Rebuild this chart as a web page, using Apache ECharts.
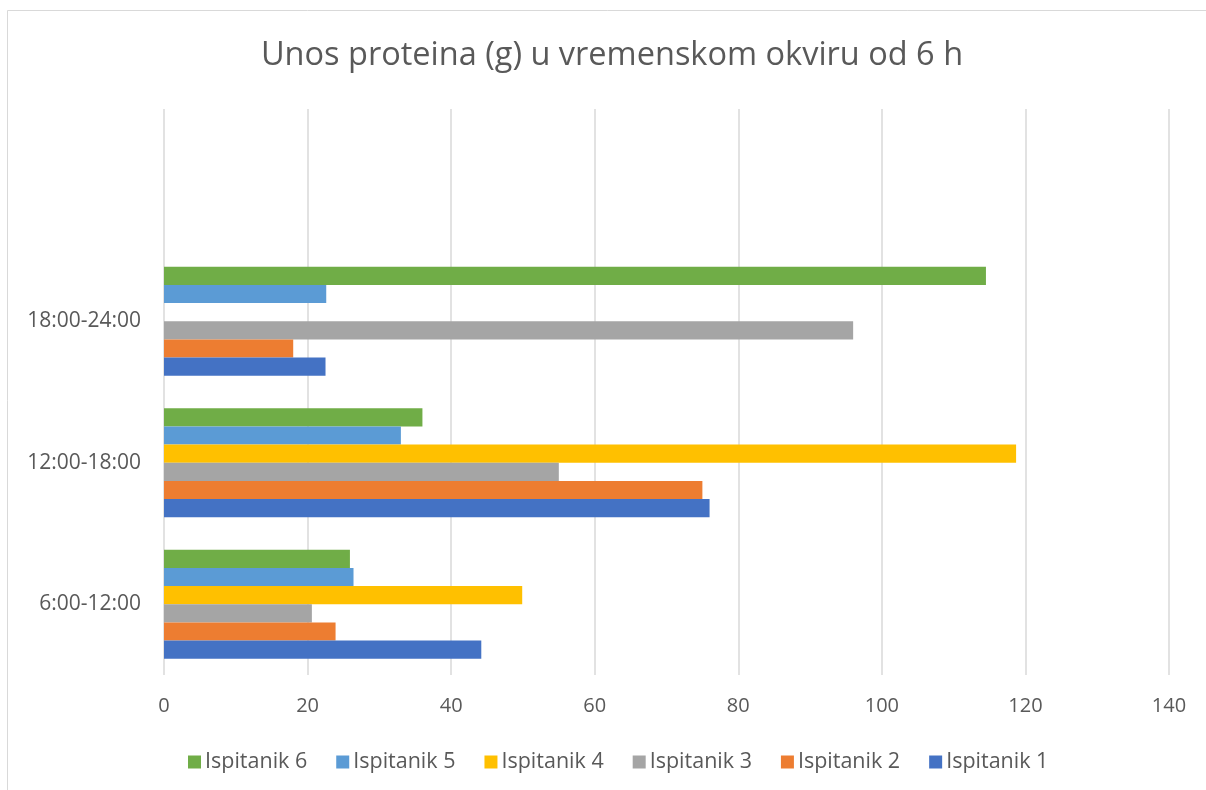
<!DOCTYPE html>
<html>
<head>
<meta charset="utf-8">
<script src="https://cdn.jsdelivr.net/npm/echarts@6/dist/echarts.min.js"></script>
<style>
  html, body { margin: 0; padding: 0; background: #fff; }
  #chart { width: 1206px; height: 790px; }
</style>
</head>
<body>
<div id="chart"></div>
<script>
// Categories (bottom to top); the top slot is empty in the original chart
const categories = ['6:00-12:00', '12:00-18:00', '18:00-24:00', ''];
const seriesNames = ['Ispitanik 1', 'Ispitanik 2', 'Ispitanik 3', 'Ispitanik 4', 'Ispitanik 5', 'Ispitanik 6'];
const ispitanik1 = [44.2, 76.0, 22.5];
const ispitanik2 = [23.9, 75.0, 18.0];
const ispitanik3 = [20.6, 55.0, 96.0];
const ispitanik4 = [49.9, 118.7, 0];
const ispitanik5 = [26.4, 33.0, 22.6];
const ispitanik6 = [25.9, 36.0, 114.5];
const xTicks = [0, 20, 40, 60, 80, 100, 120, 140];
const colors = ['#4472C4', '#ED7D31', '#A5A5A5', '#FFC000', '#5B9BD5', '#70AD47'];
const values = [ispitanik1, ispitanik2, ispitanik3, ispitanik4, ispitanik5, ispitanik6];

const FONT = 'Open Sans';
const TXT = '#595959';

// Series added from Ispitanik 6 down to 1 so that Ispitanik 1 sits at the bottom of each group
const order = [5, 4, 3, 2, 1, 0];

const chart = echarts.init(document.getElementById('chart'), null, { renderer: 'canvas' });
chart.setOption({
  animation: false,
  backgroundColor: '#ffffff',
  title: {
    text: 'Unos proteina (g) u vremenskom okviru od 6 h',
    left: 607,
    textAlign: 'center',
    top: 34,
    textStyle: { fontFamily: FONT, fontSize: 32.5, fontWeight: 'normal', color: TXT }
  },
  graphic: [{
    type: 'rect',
    shape: { x: 7.5, y: 10.5, width: 1220, height: 800 },
    style: { fill: 'none', stroke: '#D9D9D9', lineWidth: 1 },
    silent: true
  }],
  legend: {
    data: seriesNames.slice().reverse(),
    left: 183,
    top: 746,
    itemWidth: 13,
    itemHeight: 13,
    itemGap: 29,
    icon: 'rect',
    textStyle: { fontFamily: FONT, fontSize: 21.5, color: TXT, padding: [0, 0, 0, -1] }
  },
  grid: { left: 164, right: 37, top: 109, bottom: 115, containLabel: false },
  xAxis: {
    type: 'value',
    min: xTicks[0],
    max: xTicks[xTicks.length - 1],
    interval: 20,
    axisLine: { show: false },
    axisTick: { show: false },
    axisLabel: { fontFamily: FONT, fontSize: 20, color: TXT, margin: 21 },
    splitLine: { show: true, lineStyle: { color: '#D9D9D9', width: 1.5 } }
  },
  yAxis: {
    type: 'category',
    data: categories,
    axisLine: { show: false },
    axisTick: { show: false },
    axisLabel: { fontFamily: FONT, fontSize: 21, color: TXT, margin: 23 },
    splitLine: { show: false }
  },
  series: order.map(i => ({
    name: seriesNames[i],
    type: 'bar',
    data: values[i],
    barGap: '0%',
    barCategoryGap: '23%',
    itemStyle: { color: colors[i] }
  }))
});
</script>
</body>
</html>
